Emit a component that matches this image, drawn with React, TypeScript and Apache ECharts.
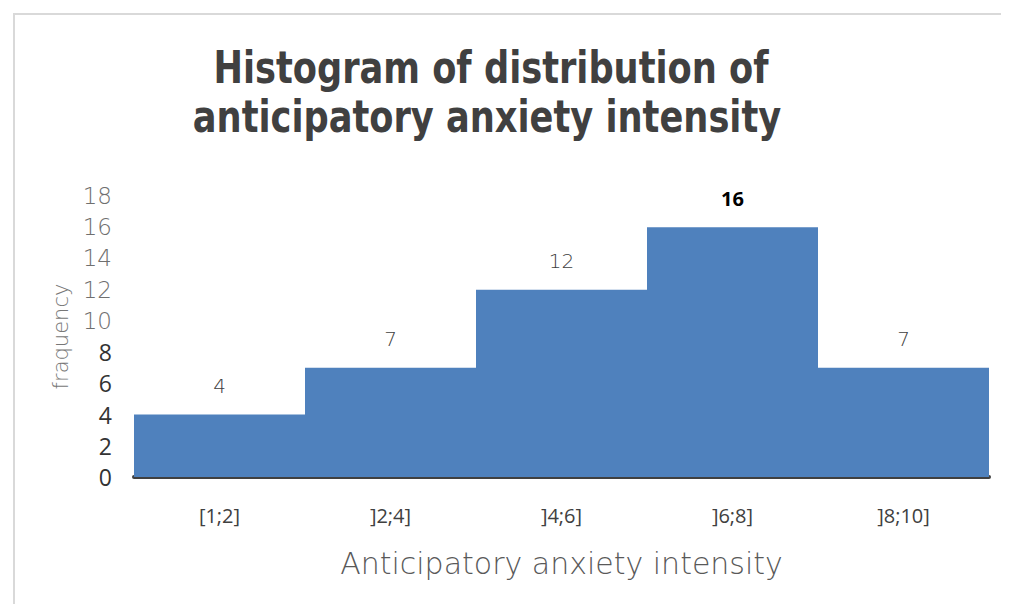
import React, { useEffect, useRef } from "react";
import * as echarts from "echarts";

const categories = ["[1;2]", "]2;4]", "]4;6]", "]6;8]", "]8;10]"];
const frequencies = [4, 7, 12, 16, 7];
const titleLines = ["Histogram of distribution of", "anticipatory anxiety intensity"];
const xName = "Anticipatory anxiety intensity";
const yName = "fraquency";

export default function App() {
  const ref = useRef<HTMLDivElement>(null);
  useEffect(() => {
    if (!ref.current) return;
    const chart = echarts.init(ref.current, null, { renderer: "svg" });
    const maxVal = Math.max(...frequencies);
    const titleFont = "'DejaVu Sans Condensed', 'Liberation Sans Narrow', sans-serif";
    chart.setOption({
      animation: false,
      backgroundColor: "#ffffff",
      graphic: [
        {
          type: "polyline",
          shape: { points: [[6, 620], [6, 6], [1010, 6]] },
          style: { stroke: "#d9d9d9", lineWidth: 2, fill: "none" },
          silent: true,
        },
        {
          type: "text",
          x: 483,
          y: 60,
          scaleX: 0.87,
          silent: true,
          style: {
            text: titleLines[0],
            textAlign: "center",
            textVerticalAlign: "middle",
            fontFamily: titleFont,
            fontWeight: "bold",
            fontSize: 45,
            fill: "#404040",
          },
        },
        {
          type: "text",
          x: 479,
          y: 109,
          scaleX: 0.87,
          silent: true,
          style: {
            text: titleLines[1],
            textAlign: "center",
            textVerticalAlign: "middle",
            fontFamily: titleFont,
            fontWeight: "bold",
            fontSize: 45,
            fill: "#404040",
          },
        },
      ],
      grid: { left: 126, right: 12, top: 188, bottom: 127, containLabel: false },
      xAxis: {
        type: "category",
        data: categories,
        axisLine: { show: true, lineStyle: { color: "#404040", width: 4 } },
        axisTick: { show: false },
        axisLabel: {
          margin: 28,
          fontSize: 20,
          color: "#404040",
          fontFamily: "'Open Sans', 'Noto Sans', sans-serif",
        },
        name: xName,
        nameLocation: "middle",
        nameGap: 71,
        nameTextStyle: {
          fontSize: 30,
          color: "#595959",
          fontFamily: "'DejaVu Sans', sans-serif",
          fontWeight: 200,
        },
      },
      yAxis: {
        type: "value",
        min: 0,
        max: 18,
        interval: 2,
        splitLine: { show: false },
        axisLine: { show: false },
        axisTick: { show: false },
        axisLabel: {
          margin: 22,
          formatter: (v: number) => (v <= 8 ? `{b|${v}}` : `{l|${v}}`),
          rich: {
            b: { fontSize: 23, color: "#333333", fontFamily: "'Open Sans', 'Noto Sans', sans-serif" },
            l: { fontSize: 23, color: "#6f6f6f", fontFamily: "'DejaVu Sans', sans-serif", fontWeight: 200 },
          },
        },
        name: yName,
        nameLocation: "middle",
        nameRotate: 90,
        nameGap: 58,
        nameTextStyle: {
          fontSize: 21,
          color: "#777777",
          fontFamily: "'DejaVu Sans', sans-serif",
          fontWeight: 200,
        },
      },
      series: [
        {
          type: "bar",
          data: frequencies.map((v) => ({
            value: v,
            label:
              v === maxVal
                ? { fontWeight: "bold", color: "#000000", fontFamily: "'Open Sans', sans-serif" }
                : undefined,
          })),
          barCategoryGap: "0%",
          barWidth: "100%",
          itemStyle: { color: "#4F81BD" },
          label: {
            show: true,
            position: "top",
            distance: 19,
            fontSize: 20,
            color: "#404040",
            fontFamily: "'DejaVu Sans', sans-serif",
            fontWeight: 200,
          },
        },
      ],
    });
    return () => chart.dispose();
  }, []);
  return <div ref={ref} style={{ width: 993, height: 596 }} />;
}
